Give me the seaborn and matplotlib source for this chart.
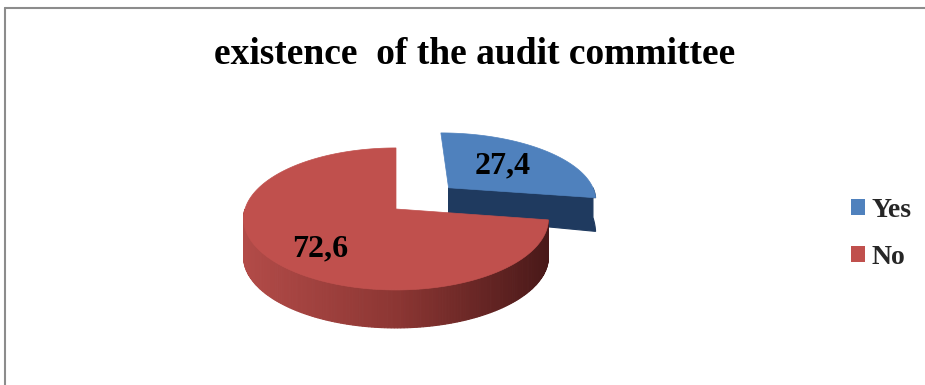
import numpy as np
import matplotlib
matplotlib.use("Agg")
import matplotlib.pyplot as plt
from matplotlib.patches import Polygon, Patch
from matplotlib.lines import Line2D
from matplotlib.colors import to_rgb
import seaborn as sns

# ---- data ----
categories = ["Yes", "No"]
values = [27.4, 72.6]
value_labels = ["27,4", "72,6"]
title = "existence  of the audit committee"

sns.set_theme(style="white")
plt.rcParams["font.family"] = ["Liberation Serif", "DejaVu Serif"]

top_colors = ["#4F81BD", "#C0504D"]

fig = plt.figure(figsize=(9.25, 3.85), dpi=100)
ax = fig.add_axes([0, 0, 1, 1])
ax.set_xlim(0, 925)
ax.set_ylim(385, 0)
ax.axis("off")

# projection parameters (pseudo-3D)
CX, CY, A, B, K = 396, 209, 151, 71, 0.14
H0 = 38
EXPLODE = [0.48, 0.0]


def thick(v):
    return H0 * (1 - 0.7 * np.clip(v, 0, 1))


def proj(u, v, off, bottom=False):
    u2 = u + off[0]
    v2 = v + off[1]
    s = 1 - K * v2
    x = CX + A * u2 * s
    y = CY - B * v2 * s
    if bottom:
        y = y + thick(v2)
    return x, y


def mix(c1, c2, t):
    a, b = np.array(to_rgb(c1)), np.array(to_rgb(c2))
    return tuple(a + (b - a) * t)


# slice angles from values (start at 90 deg, clockwise)
total = sum(values)
angles = []
start = 90.0
for val in values:
    sweep = 360.0 * val / total
    angles.append((start - sweep, start))
    start -= sweep

label_shift = [(0, 0), (3, 8)]

# draw order: exploded "Yes" (back) first, then "No"
for idx in [0, 1]:
    th0, th1 = angles[idx]
    mid = np.deg2rad((th0 + th1) / 2)
    off = (EXPLODE[idx] * np.cos(mid), EXPLODE[idx] * np.sin(mid))
    tr = np.deg2rad(np.linspace(th0, th1, 200))

    if idx == 0:
        # radial wall at th0 (front-facing) + small outer wall, one dark polygon
        seg = np.deg2rad(np.linspace(th0, 0, 10))
        top_pts = [proj(0, 0, off)] + [proj(np.cos(t), np.sin(t), off) for t in seg]
        bot_pts = [proj(np.cos(t), np.sin(t), off, True) for t in seg[::-1]] + [proj(0, 0, off, True)]
        ax.add_patch(Polygon(top_pts + bot_pts, closed=True, fc="#1F3A5F", ec="#1F3A5F", lw=0.8))
    else:
        # outer front wall with gradient
        wall = np.linspace(-180.0, angles[0][0], 160)
        wr = np.deg2rad(wall)
        for i in range(len(wr) - 1):
            t1, t2 = wr[i], wr[i + 1]
            p1 = proj(np.cos(t1), np.sin(t1), off)
            p2 = proj(np.cos(t2), np.sin(t2), off)
            p3 = proj(np.cos(t2), np.sin(t2), off, True)
            p4 = proj(np.cos(t1), np.sin(t1), off, True)
            f = (p1[0] - (CX - A)) / (2 * A)
            if f < 0.5:
                col = mix("#B24B48", "#8C3633", f / 0.5)
            else:
                col = mix("#8C3633", "#4A1919", (f - 0.5) / 0.5)
            ax.add_patch(Polygon([p1, p2, p3, p4], closed=True, fc=col, ec=col, lw=0.8))

    # top face
    pts = [proj(0, 0, off)] + [proj(np.cos(t), np.sin(t), off) for t in tr]
    ax.add_patch(Polygon(pts, closed=True, fc=top_colors[idx], ec=top_colors[idx], lw=0.5))

    # value label
    rl = 0.55 if idx == 0 else 0.65
    lx, ly = proj(rl * np.cos(mid), rl * np.sin(mid), off)
    ax.text(lx + label_shift[idx][0], ly + label_shift[idx][1], value_labels[idx],
            ha="center", va="center", fontsize=23, fontweight="bold", color="black")

# title
ax.text(475, 64, title, ha="center", va="baseline", fontsize=27,
        fontweight="bold", color="black")

# legend
handles = [Patch(facecolor=top_colors[i], edgecolor="none", label=categories[i])
           for i in range(len(categories))]
leg = ax.legend(handles=handles, loc="center left", bbox_to_anchor=(826 / 925, 1 - 234 / 385),
                bbox_transform=fig.transFigure, frameon=False,
                prop={"family": "Liberation Serif", "weight": "bold", "size": 20},
                handlelength=0.5, handleheight=0.5, handletextpad=0.25, labelspacing=0.78)

# chart-area border (cropped on right / bottom)
fig.add_artist(Line2D([5 / 925, 5 / 925], [0, 1 - 8 / 385], transform=fig.transFigure,
                      color="#8C8C8C", lw=1.5))
fig.add_artist(Line2D([5 / 925, 1], [1 - 8 / 385, 1 - 8 / 385], transform=fig.transFigure,
                      color="#8C8C8C", lw=1.5))

fig.savefig("out.png", dpi=100, facecolor="white")
